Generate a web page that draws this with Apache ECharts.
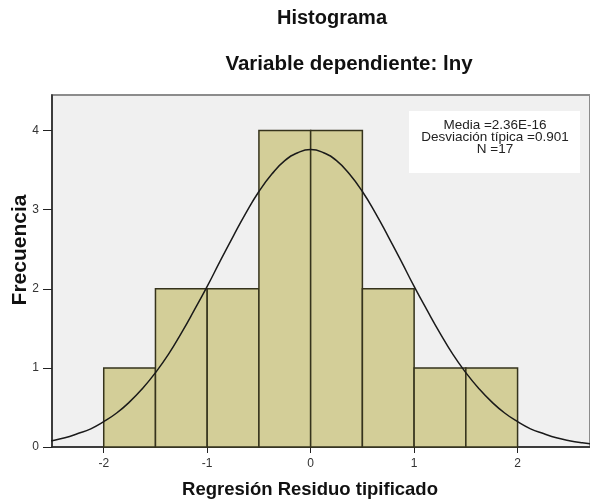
<!DOCTYPE html>
<html>
<head>
<meta charset="UTF-8">
<title>Histograma</title>
<script src="https://cdn.jsdelivr.net/npm/echarts@6/dist/echarts.min.js"></script>
<style>
  html, body { margin: 0; padding: 0; background: #fff; }
  #chart { width: 590px; height: 501px; }
</style>
</head>
<body>
<div id="chart"></div>
<script>
// histogram bins (start, end) and counts
var binStart = [-2, -1.5, -1, -0.5, 0, 0.5, 1, 1.5];
var binEnd = [-1.5, -1, -0.5, 0, 0.5, 1, 1.5, 2];
var counts = [1, 2, 2, 4, 4, 2, 1, 1];

// normal curve
var curveX = [-2.625, -2.5, -2.375, -2.25, -2.125, -2, -1.875, -1.75, -1.625, -1.5, -1.375,
  -1.25, -1.125, -1, -0.875, -0.75, -0.625, -0.5, -0.375, -0.25, -0.125, 0,
  0.125, 0.25, 0.375, 0.5, 0.625, 0.75, 0.875, 1, 1.125, 1.25, 1.375,
  1.5, 1.625, 1.75, 1.875, 2, 2.125, 2.25, 2.375, 2.5, 2.625, 2.75];
var curveY = [0.054, 0.08, 0.117, 0.17, 0.23, 0.32, 0.43, 0.57, 0.74, 0.94, 1.17,
  1.44, 1.73, 2.03, 2.35, 2.66, 2.96, 3.23, 3.45, 3.62, 3.72, 3.76,
  3.72, 3.62, 3.45, 3.23, 2.96, 2.66, 2.35, 2.03, 1.73, 1.44, 1.17,
  0.94, 0.74, 0.57, 0.43, 0.32, 0.23, 0.17, 0.117, 0.08, 0.054, 0.036];

var xTicks = [-2, -1, 0, 1, 2];
var yTicks = [0, 1, 2, 3, 4];
var statsLines = ['Media =2.36E-16', 'Desviación típica =0.901', 'N =17'];

var font = 'Arial, "Liberation Sans", sans-serif';

var barData = [];
for (var i = 0; i < counts.length; i++) {
  barData.push([binStart[i], binEnd[i], counts[i]]);
}
var lineData = [];
for (var j = 0; j < curveX.length; j++) {
  lineData.push([curveX[j], curveY[j]]);
}

var chart = echarts.init(document.getElementById('chart'));
chart.setOption({
  animation: false,
  grid: {
    left: 52, top: 95, right: 0, bottom: 54,
    show: true, backgroundColor: '#f0f0f0',
    borderColor: '#8c8c8c', borderWidth: 2
  },
  xAxis: {
    type: 'value', min: -2.5, max: 2.7,
    axisLine: { onZero: false, lineStyle: { color: '#222', width: 1.5 } },
    axisTick: { show: true, length: 6, customValues: xTicks, lineStyle: { color: '#222' } },
    axisLabel: { customValues: xTicks, margin: 11, fontFamily: font, fontSize: 12, color: '#333' },
    splitLine: { show: false }
  },
  yAxis: {
    type: 'value', min: 0, max: 4.45,
    axisLine: { show: true, onZero: false, lineStyle: { color: '#222', width: 1.5 } },
    axisTick: { show: true, length: 9, customValues: yTicks, lineStyle: { color: '#222' } },
    axisLabel: { customValues: yTicks, margin: 13, fontFamily: font, fontSize: 12, color: '#333' },
    splitLine: { show: false }
  },
  graphic: [
    { type: 'text', x: 332, y: 18, style: { text: 'Histograma', fill: '#111',
      font: 'bold 20px ' + font, textAlign: 'center', textVerticalAlign: 'middle' } },
    { type: 'text', x: 349, y: 64, style: { text: 'Variable dependiente: lny', fill: '#111',
      font: 'bold 20.5px ' + font, textAlign: 'center', textVerticalAlign: 'middle' } },
    { type: 'text', x: 20, y: 250, rotation: Math.PI / 2, style: { text: 'Frecuencia', fill: '#111',
      font: 'bold 21px ' + font, textAlign: 'center', textVerticalAlign: 'middle' } },
    { type: 'text', x: 310, y: 490, style: { text: 'Regresión Residuo tipificado', fill: '#111',
      font: 'bold 18.5px ' + font, textAlign: 'center', textVerticalAlign: 'middle' } },
    { type: 'rect', shape: { x: 409, y: 111, width: 171, height: 62 },
      style: { fill: '#ffffff' }, z: 10 },
    { type: 'text', x: 495, y: 119, z: 11, style: { text: statsLines.join('\n'), fill: '#222',
      font: '13.5px ' + font, lineHeight: 12, textAlign: 'center', textVerticalAlign: 'top' } }
  ],
  series: [
    {
      type: 'custom',
      data: barData,
      renderItem: function (params, api) {
        var p0 = api.coord([api.value(0), api.value(2)]);
        var p1 = api.coord([api.value(1), 0]);
        return {
          type: 'rect',
          shape: { x: p0[0], y: p0[1], width: p1[0] - p0[0], height: p1[1] - p0[1] },
          style: { fill: '#d3ce98', stroke: '#35331c', lineWidth: 1.5 }
        };
      },
      encode: { x: [0, 1], y: 2 }
    },
    {
      type: 'line',
      data: lineData,
      smooth: true,
      showSymbol: false,
      lineStyle: { color: '#1a1a1a', width: 1.5 },
      z: 5
    }
  ]
});
</script>
</body>
</html>
